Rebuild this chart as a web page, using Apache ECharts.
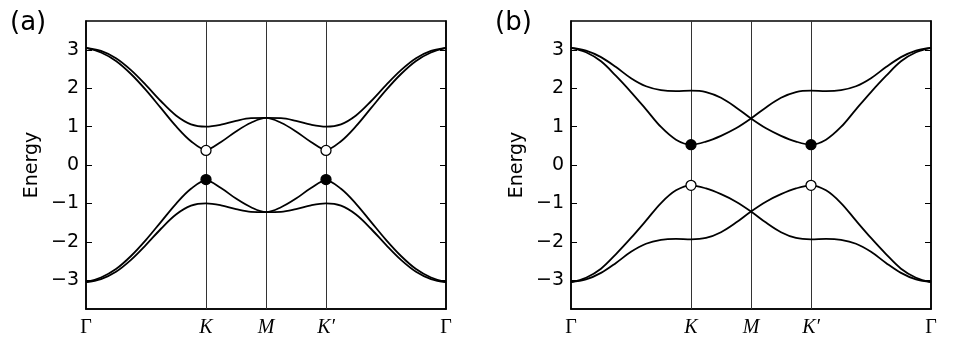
<!DOCTYPE html>
<html><head><meta charset="utf-8">
<script src="https://cdn.jsdelivr.net/npm/echarts@6/dist/echarts.min.js"></script>
<style>html,body{margin:0;padding:0;background:#fff}#c{width:960px;height:360px}</style>
</head><body><div id="c"></div>
<script>
// k-path coordinate: Γ=0, K=2, M=3, K'=4, Γ=6
const kPath = [0,0.25,0.5,0.75,1,1.25,1.5,1.75,2,2.25,2.5,2.75,3,3.25,3.5,3.75,4,4.25,4.5,4.75,5,5.25,5.5,5.75,6];
const xTickValues = [0,2,3,4,6];
const xTickLabels = ['Γ','K','M','K′','Γ'];
const yTickValues = [-3,-2,-1,0,1,2,3];
const symmetryLines = [2,3,4];
const panelLabels = ['(a)','(b)'];

// panel (a)
const aUp1 = [3.05,2.97,2.78,2.47,2.08,1.66,1.29,1.06,1.00,1.05,1.15,1.22,1.225,1.10,0.875,0.60,0.40,0.62,1.01,1.48,1.95,2.37,2.71,2.93,3.05];
const aUp2 = [3.05,2.93,2.71,2.37,1.95,1.48,1.01,0.62,0.40,0.60,0.875,1.10,1.225,1.22,1.15,1.05,1.00,1.06,1.29,1.66,2.08,2.47,2.78,2.97,3.05];
const aLo1 = [-3.05,-2.97,-2.78,-2.47,-2.08,-1.66,-1.29,-1.06,-1.00,-1.05,-1.15,-1.22,-1.225,-1.10,-0.875,-0.60,-0.40,-0.62,-1.01,-1.48,-1.95,-2.37,-2.71,-2.93,-3.05];
const aLo2 = [-3.05,-2.93,-2.71,-2.37,-1.95,-1.48,-1.01,-0.62,-0.40,-0.60,-0.875,-1.10,-1.225,-1.22,-1.15,-1.05,-1.00,-1.06,-1.29,-1.66,-2.08,-2.47,-2.78,-2.97,-3.05];
const aOpenX = [2,4], aOpenY = [0.38,0.38];
const aFillX = [2,4], aFillY = [-0.38,-0.38];

// panel (b)
const bUp1 = [3.05,2.98,2.81,2.55,2.26,2.05,1.95,1.925,1.935,1.90,1.75,1.50,1.21,0.955,0.76,0.61,0.53,0.66,0.99,1.45,1.90,2.32,2.70,2.935,3.05];
const bUp2 = [3.05,2.935,2.70,2.32,1.90,1.45,0.99,0.66,0.53,0.61,0.76,0.955,1.21,1.50,1.75,1.90,1.935,1.925,1.95,2.05,2.26,2.55,2.81,2.98,3.05];
const bLo1 = [-3.05,-2.98,-2.81,-2.55,-2.26,-2.05,-1.95,-1.925,-1.935,-1.90,-1.75,-1.50,-1.21,-0.955,-0.76,-0.61,-0.53,-0.66,-0.99,-1.45,-1.90,-2.32,-2.70,-2.935,-3.05];
const bLo2 = [-3.05,-2.935,-2.70,-2.32,-1.90,-1.45,-0.99,-0.66,-0.53,-0.61,-0.76,-0.955,-1.21,-1.50,-1.75,-1.90,-1.935,-1.925,-1.95,-2.05,-2.26,-2.55,-2.81,-2.98,-3.05];
const bFillX = [2,4], bFillY = [0.53,0.53];
const bOpenX = [2,4], bOpenY = [-0.53,-0.53];

const chart = echarts.init(document.getElementById('c'), null, {renderer:'canvas'});
const zip = (xs, ys) => xs.map((x,i)=>[x, ys[i]]);
const grids = [
  {left:86, top:21, width:360, height:288},
  {left:571, top:21, width:360, height:288}
];
const xFmt = v => {
  const i = xTickValues.indexOf(v);
  const s = xTickLabels[i];
  return s === 'Γ' ? '{u|Γ}' : '{i|' + s + '}';
};
const yFmt = v => v < 0 ? '\u2212' + Math.abs(v) : String(v);

const xAxes = [], yAxes = [], series = [], titles = [];
grids.forEach((g, gi) => {
  xAxes.push({
    type:'value', gridIndex:gi, min:0, max:6,
    axisLine:{show:true, onZero:false, lineStyle:{color:'#000', width:1.5}},
    axisTick:{show:false},
    splitLine:{show:false},
    axisLabel:{customValues:xTickValues, formatter:xFmt, margin:9,
      rich:{
        u:{fontFamily:'Liberation Serif', fontSize:20, color:'#000'},
        i:{fontFamily:'Liberation Serif', fontStyle:'italic', fontSize:20, color:'#000'}
      }}
  });
  yAxes.push({
    type:'value', gridIndex:gi, min:-3.75, max:3.75, position:'left',
    name:'Energy', nameLocation:'middle', nameGap:44,
    nameTextStyle:{fontFamily:'DejaVu Sans', fontSize:19, color:'#000'},
    axisLine:{show:true, onZero:false, lineStyle:{color:'#000', width:1.5}},
    axisTick:{show:true, inside:true, length:6, customValues:yTickValues, lineStyle:{color:'#000', width:1}},
    splitLine:{show:false},
    axisLabel:{customValues:yTickValues, formatter:yFmt, margin:7,
      fontFamily:'DejaVu Sans', fontSize:19, color:'#000'}
  });
  yAxes.push({
    type:'value', gridIndex:gi, min:-3.75, max:3.75, position:'right',
    axisLine:{show:true, onZero:false, lineStyle:{color:'#000', width:1.5}},
    axisTick:{show:true, inside:true, length:6, customValues:yTickValues, lineStyle:{color:'#000', width:1}},
    splitLine:{show:false},
    axisLabel:{show:false}
  });
  titles.push({text:panelLabels[gi], left: gi === 0 ? 5 : 490, top:5,
    textStyle:{fontFamily:'DejaVu Sans', fontSize:26, fontWeight:'normal', color:'#000'}});
});

const bandSets = [[aUp1,aUp2,aLo1,aLo2],[bUp1,bUp2,bLo1,bLo2]];
bandSets.forEach((bands, gi) => {
  bands.forEach((ys, bi) => {
    const s = {
      type:'line', xAxisIndex:gi, yAxisIndex:gi*2, data:zip(kPath, ys),
      showSymbol:false, smooth:0.35, lineStyle:{color:'#000', width:1.8}, z:3
    };
    if (bi === 0) {
      s.markLine = {silent:true, symbol:['none','none'], label:{show:false},
        lineStyle:{color:'#333', width:1, type:'solid'},
        data: symmetryLines.map(x => ({xAxis:x})), z:2};
    }
    series.push(s);
  });
});
const dotSets = [
  [[aOpenX,aOpenY,false],[aFillX,aFillY,true]],
  [[bFillX,bFillY,true],[bOpenX,bOpenY,false]]
];
dotSets.forEach((sets, gi) => {
  sets.forEach(([xs, ys, filled]) => {
    series.push({type:'scatter', xAxisIndex:gi, yAxisIndex:gi*2, data:zip(xs, ys),
      symbol:'circle', symbolSize:10, z:5,
      itemStyle:{color: filled ? '#000' : '#fff', borderColor:'#000', borderWidth:1.3, opacity:1}});
  });
});

chart.setOption({
  animation:false,
  backgroundColor:'#fff',
  title:titles,
  grid:grids.map(g => Object.assign({show:true, borderColor:'#000', borderWidth:1.5, backgroundColor:'transparent'}, g)),
  xAxis:xAxes,
  yAxis:yAxes,
  series:series
});
</script></body></html>
